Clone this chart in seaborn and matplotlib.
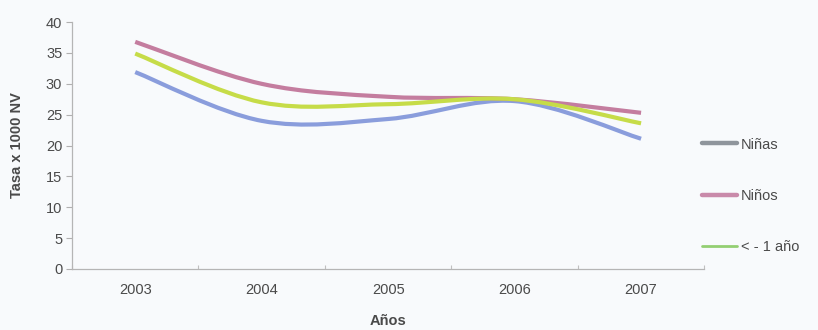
import numpy as np
import matplotlib
matplotlib.use("Agg")
import matplotlib.pyplot as plt
from matplotlib.path import Path
from matplotlib.patches import PathPatch
from matplotlib.lines import Line2D
import seaborn as sns

# ---------------------------------------------------------------
# data
# ---------------------------------------------------------------
years = ["2003", "2004", "2005", "2006", "2007"]
ninas = [31.9, 24.0, 24.3, 27.2, 21.1]
ninos = [36.8, 30.0, 27.9, 27.5, 25.3]
menor_1 = [34.9, 27.0, 26.7, 27.5, 23.6]

series_names = ["Niñas", "Niños", "< - 1 año"]
line_colors = ["#8a9ddc", "#c47d9f", "#c6dc48"]
legend_colors = ["#8f959c", "#c98aaa", "#93cf72"]

sns.set_theme(style="white")
plt.rcParams["font.family"] = ["Liberation Sans", "DejaVu Sans"]
bg = "#f8fafc"
txt = "#4a4a4a"


def smooth_path(xs, ys):
    # Excel-style smoothed line: cubic bezier segments through every point
    pts = np.column_stack([xs, ys]).astype(float)
    ext = np.vstack([pts[0], pts, pts[-1]])
    verts = [tuple(pts[0])]
    codes = [Path.MOVETO]
    for i in range(len(pts) - 1):
        p0, p1, p2, p3 = ext[i], ext[i + 1], ext[i + 2], ext[i + 3]
        c1 = p1 + (p2 - p0) / 6
        c2 = p2 - (p3 - p1) / 6
        verts += [tuple(c1), tuple(c2), tuple(p2)]
        codes += [Path.CURVE4] * 3
    return Path(verts, codes)


fig = plt.figure(figsize=(8.18, 3.30), dpi=100, facecolor=bg)
ax = fig.add_axes([0.088, 0.185, 0.773, 0.748])
ax.set_facecolor(bg)

x = np.arange(len(years))
for vals, col in zip([ninas, ninos, menor_1], line_colors):
    ax.add_patch(PathPatch(smooth_path(x, vals), fill=False, edgecolor=col,
                           lw=3.0, capstyle="butt", joinstyle="round"))

ax.set_xlim(-0.5, len(years) - 0.5)
ax.set_ylim(0, 40)
ax.set_yticks(range(0, 41, 5))
ax.set_xticks(x)
ax.set_xticklabels(years)
ax.set_xticks(np.arange(-0.5, len(years), 1), minor=True)

ax.tick_params(axis="y", which="major", left=True, length=4, width=0.8,
               color="#b0b0b0", labelsize=10.5, labelcolor=txt, pad=3)
ax.tick_params(axis="x", which="major", bottom=False, labelsize=10.5,
               labelcolor=txt, pad=4)
ax.tick_params(axis="x", which="minor", bottom=True, length=3, width=0.8,
               color="#c0c0c0", direction="in")

sns.despine(ax=ax)
for side in ["left", "bottom"]:
    ax.spines[side].set_color("#b5b5b5")
    ax.spines[side].set_linewidth(0.9)

ax.set_ylabel("Tasa x 1000 NV", fontsize=10.5, fontweight="bold", color=txt,
              labelpad=16)
ax.set_xlabel("Años", fontsize=10.5, fontweight="bold", color=txt, labelpad=12)

handles = [Line2D([], [], color=c, lw=w, solid_capstyle="round")
           for c, w in zip(legend_colors, [3.2, 3.2, 2.0])]
fig.legend(handles, series_names, loc="center left",
           bbox_to_anchor=(0.858, 0.407), frameon=False, fontsize=10.5,
           handlelength=2.4, handletextpad=0.3, labelspacing=2.55,
           borderpad=0, borderaxespad=0, labelcolor=txt)

fig.savefig("out.png", dpi=100, facecolor=bg)
